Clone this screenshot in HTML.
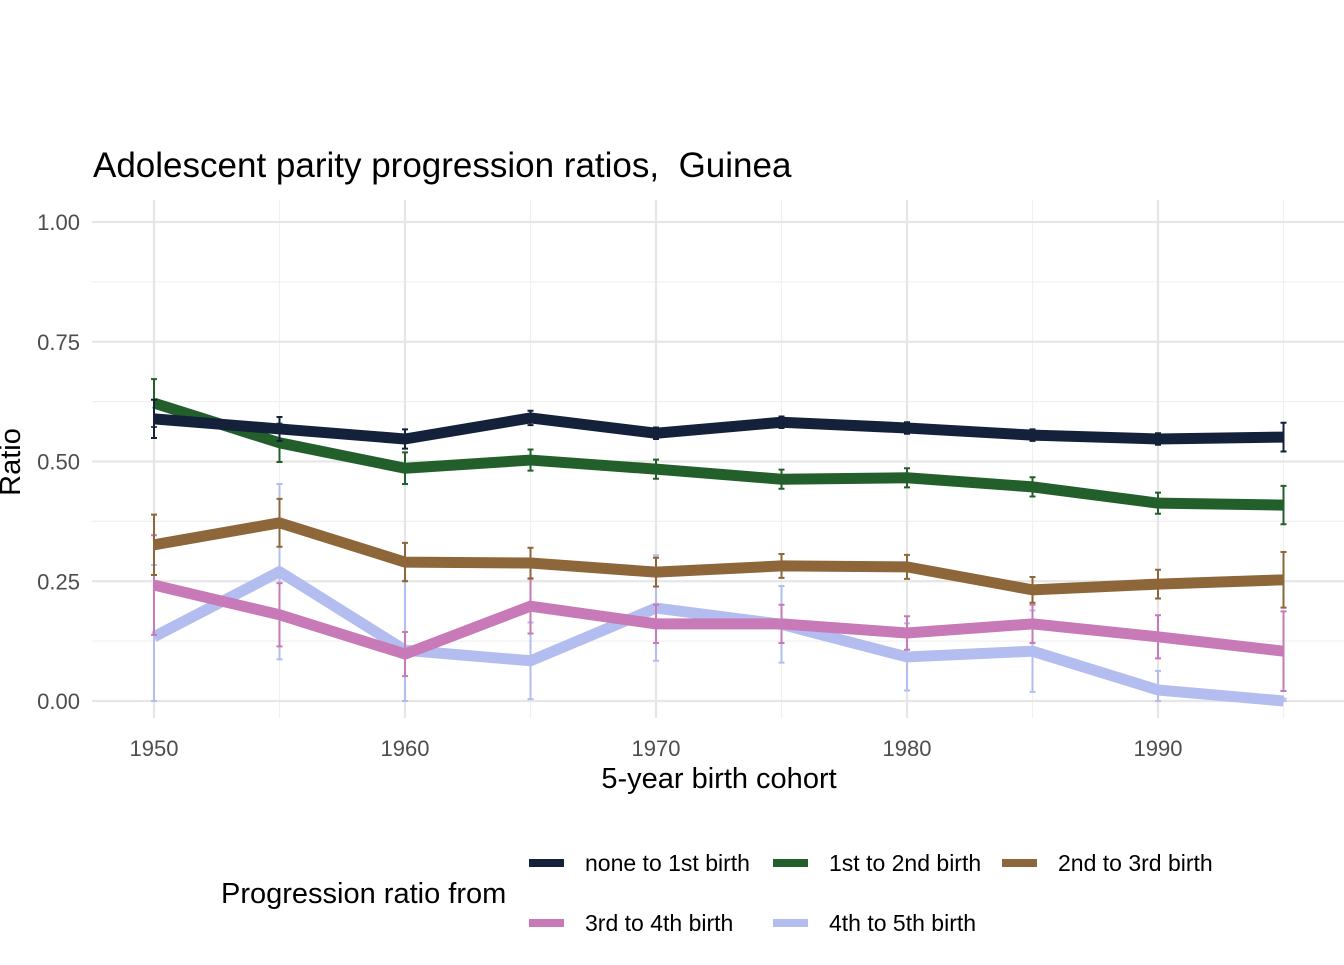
<!DOCTYPE html>
<html><head><meta charset="utf-8"><style>
body{margin:0;background:#fff;font-family:"Liberation Sans",Arial,sans-serif}
svg text{font-family:"Liberation Sans",Arial,sans-serif}
</style></head><body>
<svg id="chart" width="1344" height="960" xmlns="http://www.w3.org/2000/svg">
<rect width="1344" height="960" fill="#fff"/>
<text x="93" y="177" font-size="35" fill="#000" style="white-space:pre">Adolescent parity progression ratios,  Guinea</text>
<g id="grid"></g>
<g id="axes"></g>
<g id="series"></g>
<text x="719" y="788" font-size="29" text-anchor="middle" fill="#000">5-year birth cohort</text>
<text transform="translate(20,462) rotate(-90)" font-size="29" text-anchor="middle" fill="#000">Ratio</text>
<g id="legend">
<text x="221" y="903" font-size="29" fill="#000">Progression ratio from</text>
</g>
</svg>
<script>
const cohorts=[1950,1955,1960,1965,1970,1975,1980,1985,1990,1995];
const seriesNames=["none to 1st birth","1st to 2nd birth","2nd to 3rd birth","3rd to 4th birth","4th to 5th birth"];
const seriesColors=["#14213a","#235f2b","#8d6639","#c879b7","#b3bdf0"];
const valNone=[0.589,0.568,0.547,0.591,0.559,0.582,0.570,0.555,0.547,0.551];
const errNone=[0.04,0.025,0.02,0.015,0.012,0.012,0.012,0.012,0.012,0.03];
const val1st=[0.622,0.539,0.486,0.503,0.484,0.463,0.466,0.447,0.413,0.409];
const err1st=[0.05,0.04,0.033,0.022,0.02,0.02,0.02,0.02,0.022,0.04];
const val2nd=[0.326,0.372,0.290,0.288,0.269,0.282,0.280,0.232,0.244,0.253];
const err2nd=[0.063,0.05,0.04,0.032,0.03,0.025,0.025,0.027,0.03,0.058];
const val3rd=[0.242,0.180,0.098,0.198,0.161,0.161,0.142,0.161,0.134,0.104];
const err3rd=[0.104,0.066,0.046,0.057,0.04,0.04,0.035,0.04,0.045,0.083];
const val4th=[0.134,0.270,0.106,0.084,0.194,0.160,0.092,0.104,0.023,0.0];
const err4th=[0.15,0.183,0.145,0.08,0.11,0.08,0.07,0.085,0.04,0.005];
const yTicks=[0,0.25,0.5,0.75,1.0];
const yTickLabels=["0.00","0.25","0.50","0.75","1.00"];
const xTicks=[1950,1960,1970,1980,1990];

const NS="http://www.w3.org/2000/svg";
const X=v=>154+(v-1950)*25.1;
const Y=v=>701-v*479;
function mk(tag,attrs,parent){const e=document.createElementNS(NS,tag);for(const k in attrs)e.setAttribute(k,attrs[k]);parent.appendChild(e);return e;}
const grid=document.getElementById('grid'),axes=document.getElementById('axes'),ser=document.getElementById('series'),leg=document.getElementById('legend');
const L=92,R=1344;
for(let i=0;i<yTicks.length-1;i++){const v=(yTicks[i]+yTicks[i+1])/2;
 const g=mk('line',{x1:L,x2:R,y1:Y(v),y2:Y(v),stroke:'#f0f0f0','stroke-width':1.2},grid);
 
 }
for(let i=0;i<xTicks.length;i++){const v=xTicks[i]+5;
 const g=mk('line',{x1:X(v),x2:X(v),y1:200,y2:718,stroke:'#f0f0f0','stroke-width':1.2},grid);
 
 }
yTicks.forEach((v,i)=>{
 const g=mk('line',{x1:L,x2:R,y1:Y(v),y2:Y(v),stroke:'#e6e6e6','stroke-width':2.2},grid);
 
 
 const t=mk('text',{x:80,y:Y(v)+8,'font-size':22,'text-anchor':'end',fill:'#4d4d4d'},axes);
 t.textContent=yTickLabels[i];
 
 
});
xTicks.forEach(v=>{
 const g=mk('line',{x1:X(v),x2:X(v),y1:200,y2:718,stroke:'#e6e6e6','stroke-width':2.2},grid);
 
 
 const t=mk('text',{x:X(v),y:756,'font-size':22,'text-anchor':'middle',fill:'#4d4d4d'},axes);
 t.textContent=v;
 
 
});
const vals=[valNone,val1st,val2nd,val3rd,val4th],errs=[errNone,err1st,err2nd,err3rd,err4th];
const slugs=['none-to-1st','1st-to-2nd','2nd-to-3rd','3rd-to-4th','4th-to-5th'];
for(let s=4;s>=0;s--){
 const g=mk('g',{},ser);
 
 
 const pts=cohorts.map((c,i)=>X(c)+','+Y(vals[s][i])).join(' ');
 const pl=mk('polyline',{points:pts,fill:'none',stroke:seriesColors[s],'stroke-width':11,'stroke-linejoin':'round'},g);
 
 
 cohorts.forEach((c,i)=>{
  const lo=Math.max(0,vals[s][i]-errs[s][i]);
  const x=X(c),y1=Y(vals[s][i]+errs[s][i]),y2=Y(lo);
  const p=mk('path',{d:`M${x-3},${y1}H${x+3}M${x},${y1}V${y2}M${x-3},${y2}H${x+3}`,stroke:seriesColors[s],'stroke-width':2,fill:'none'},g);
  
  
 });
}
const legPos=[[529,862],[773,862],[1002,862],[529,922],[773,922]];
seriesNames.forEach((n,i)=>{
 const [x,y]=legPos[i];
 const g=mk('g',{},leg);
 
 
 mk('rect',{x:x,y:y-3,width:35,height:8,fill:seriesColors[i]},g);
 const t=mk('text',{x:x+56,y:y+9,'font-size':23,fill:'#000'},g);
 t.textContent=n;
});
</script>
</body></html>
